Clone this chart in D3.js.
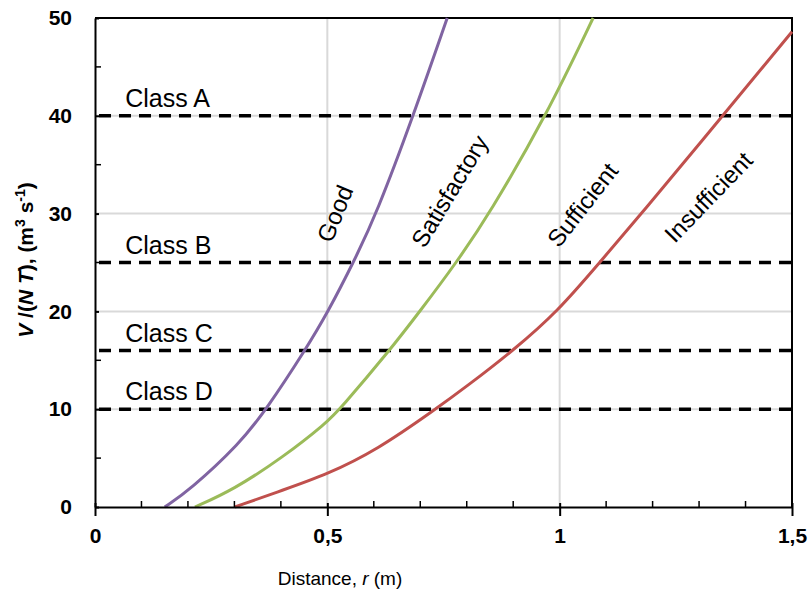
<!DOCTYPE html>
<html>
<head>
<meta charset="utf-8">
<script src="https://d3js.org/d3.v7.min.js"></script>
<style>
  body { margin: 0; background: #fff; }
  text { font-family: "Liberation Sans", Arial, sans-serif; }
</style>
</head>
<body>
<svg id="vis"></svg>

<script>
  // Curves: distance r (m) vs V/(NT)
  var goodR = [0.15, 0.204, 0.312, 0.369, 0.452, 0.502, 0.556, 0.606, 0.685, 0.758];
  var goodV = [0, 1.74, 6.5, 10, 16, 20, 25, 30, 40, 50];
  var satR = [0.215, 0.297, 0.405, 0.498, 0.527, 0.634, 0.699, 0.778, 0.849, 0.971, 1.072];
  var satV = [0, 1.74, 5.1, 8.6, 10, 16, 20, 25, 30, 40, 50];
  var insR = [0.301, 0.405, 0.498, 0.606, 0.733, 0.799, 0.9, 0.996, 1.086, 1.176, 1.351, 1.5];
  var insV = [0, 1.74, 3.3, 5.8, 10, 12.3, 16, 20, 25, 30, 40, 48.6];

  // Class limits (dashed lines)
  var classNames = ["Class A", "Class B", "Class C", "Class D"];
  var classValues = [40, 25, 16, 10];

  // Zone labels
  var zoneNames = ["Good", "Satisfactory", "Sufficient", "Insufficient"];
  var zoneR = [0.516, 0.763, 1.049, 1.32];
  var zoneV = [30.0, 32.3, 30.9, 31.7];
  var zoneAngle = [-68, -59, -52, -46];

  var xTicks = [0, 0.5, 1, 1.5];
  var xTickLabels = ["0", "0,5", "1", "1,5"];
  var yTicks = [0, 10, 20, 30, 40, 50];

  var width = 809, height = 594;
  var mLeft = 95, mRight = 792, mTop = 18, mBottom = 507;

  var svg = d3.select("#vis")
      .attr("width", width)
      .attr("height", height);

  var x = d3.scaleLinear().domain([0, 1.5]).range([mLeft, mRight]);
  var y = d3.scaleLinear().domain([0, 50]).range([mBottom, mTop]);

  // gridlines
  svg.selectAll(".hgrid")
      .data(yTicks.slice(1))
      .enter().append("line")
      .attr("x1", mLeft).attr("x2", mRight)
      .attr("y1", function(d) { return y(d); })
      .attr("y2", function(d) { return y(d); })
      .attr("stroke", "#d9d9d9")
      .attr("stroke-width", 2);

  svg.selectAll(".vgrid")
      .data(xTicks.slice(1))
      .enter().append("line")
      .attr("y1", mTop).attr("y2", mBottom)
      .attr("x1", function(d) { return x(d); })
      .attr("x2", function(d) { return x(d); })
      .attr("stroke", "#d9d9d9")
      .attr("stroke-width", 2);

  // frame (top and right)
  svg.append("path")
      .attr("d", "M" + mLeft + "," + mTop + "H" + mRight + "V" + mBottom)
      .attr("fill", "none")
      .attr("stroke", "#000")
      .attr("stroke-width", 2);

  // class dashed lines
  svg.selectAll(".classline")
      .data(classValues)
      .enter().append("line")
      .attr("x1", mLeft + 4).attr("x2", mRight)
      .attr("y1", function(d) { return y(d); })
      .attr("y2", function(d) { return y(d); })
      .attr("stroke", "#000")
      .attr("stroke-width", 3.5)
      .attr("stroke-dasharray", "12,8");

  svg.selectAll(".classlabel")
      .data(classValues)
      .enter().append("text")
      .attr("x", x(0.065))
      .attr("y", function(d) { return y(d) - 9; })
      .attr("font-size", 25)
      .attr("fill", "#000")
      .text(function(d, i) { return classNames[i]; });

  // curves
  var line = d3.line()
      .x(function(d) { return x(d[0]); })
      .y(function(d) { return y(d[1]); })
      .curve(d3.curveBasis);

  var curves = [
    { r: goodR, v: goodV, color: "#8064a2" },
    { r: satR, v: satV, color: "#9bbb59" },
    { r: insR, v: insV, color: "#c0504d" }
  ];

  svg.selectAll(".curve")
      .data(curves)
      .enter().append("path")
      .attr("d", function(d) { return line(d.r.map(function(r, i) { return [r, d.v[i]]; })); })
      .attr("fill", "none")
      .attr("stroke", function(d) { return d.color; })
      .attr("stroke-width", 3);

  // zone labels
  svg.selectAll(".zone")
      .data(zoneNames)
      .enter().append("text")
      .attr("transform", function(d, i) {
        return "translate(" + x(zoneR[i]) + "," + y(zoneV[i]) + ") rotate(" + zoneAngle[i] + ")";
      })
      .attr("text-anchor", "middle")
      .attr("dominant-baseline", "central")
      .attr("font-size", 24)
      .text(function(d) { return d; });

  // axes
  var xAxis = d3.axisBottom(x).tickValues(xTicks).tickSize(9).tickSizeOuter(0)
      .tickFormat(function(d, i) { return xTickLabels[i]; });
  var gx = svg.append("g").attr("transform", "translate(0," + mBottom + ")").call(xAxis);
  gx.select(".domain").attr("stroke-width", 2);
  gx.selectAll(".tick line").attr("stroke-width", 2).attr("y1", -4);
  gx.selectAll(".tick text")
      .attr("y", 21)
      .attr("font-size", 21)
      .attr("font-weight", "bold")
      .attr("font-family", "Liberation Sans, Arial, sans-serif");

  // minor x ticks (inside)
  svg.selectAll(".xminor")
      .data(d3.range(1, 15).filter(function(d) { return d % 5 !== 0; }).map(function(d) { return d / 10; }))
      .enter().append("line")
      .attr("x1", function(d) { return x(d); })
      .attr("x2", function(d) { return x(d); })
      .attr("y1", mBottom).attr("y2", mBottom - 6)
      .attr("stroke", "#000")
      .attr("stroke-width", 1.5);

  var yAxis = d3.axisLeft(y).tickValues(yTicks).tickSize(9).tickSizeOuter(0);
  var gy = svg.append("g").attr("transform", "translate(" + mLeft + ",0)").call(yAxis);
  gy.select(".domain").attr("stroke-width", 2);
  gy.selectAll(".tick line").attr("stroke-width", 2).attr("x2", 4);
  gy.selectAll(".tick text")
      .attr("x", -23)
      .attr("font-size", 21)
      .attr("font-weight", "bold")
      .attr("font-family", "Liberation Sans, Arial, sans-serif");

  svg.selectAll(".yminor")
      .data([5, 15, 25, 35, 45])
      .enter().append("line")
      .attr("x1", mLeft).attr("x2", mLeft + 6)
      .attr("y1", function(d) { return y(d); })
      .attr("y2", function(d) { return y(d); })
      .attr("stroke", "#000")
      .attr("stroke-width", 1.5);

  // axis titles
  svg.append("text")
      .attr("x", 340)
      .attr("y", 585)
      .attr("text-anchor", "middle")
      .attr("font-size", 19)
      .html('Distance, <tspan font-style="italic">r</tspan> (m)');

  svg.append("text")
      .attr("transform", "translate(33,260) rotate(-90)")
      .attr("text-anchor", "middle")
      .attr("font-size", 21)
      .attr("font-weight", "bold")
      .html('<tspan font-style="italic">V</tspan> /(<tspan font-style="italic">N T</tspan>), (m<tspan dy="-8" font-size="14">3</tspan><tspan dy="8"> s</tspan><tspan dy="-8" font-size="14">-1</tspan><tspan dy="8">)</tspan>');
</script>
</body>
</html>
